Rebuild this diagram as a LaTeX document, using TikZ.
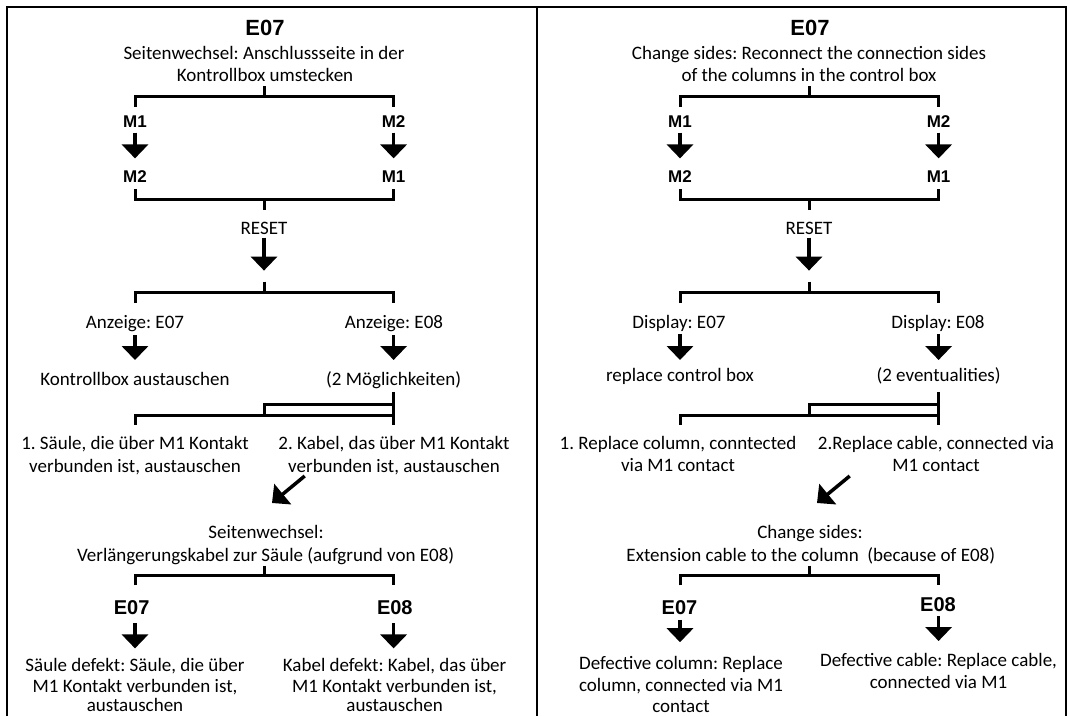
\documentclass[tikz,border=0pt]{standalone}
\usepackage{fontspec}
\setmainfont{Carlito}
\newfontfamily\hdrfont{Liberation Sans}
\usetikzlibrary{arrows.meta,calc}
\frenchspacing
\newcommand\mybracket[7]{%
  \coordinate (#1s) at (#2,#3);
  \coordinate (#1h) at (#2,#4);
  \coordinate (#1l) at (#6,#5);
  \coordinate (#1r) at (#7,#5);
  \draw[brk] (#1s) -- (#1h);
  \draw[brk] (#1l) |- (#1h) -| (#1r);}
\begin{document}
\frenchspacing
\begin{tikzpicture}[x=1pt,y=-1pt,
  txt/.style={anchor=base,inner sep=0pt,font=\frenchspacing\fontsize{19}{22}\selectfont},
  lbl/.style={anchor=base,inner sep=0pt,font=\hdrfont\bfseries\fontsize{17}{20}\selectfont},
  elbl/.style={anchor=base,inner sep=0pt,font=\hdrfont\bfseries\fontsize{20}{24}\selectfont},
  ttl/.style={anchor=base,inner sep=0pt,font=\hdrfont\bfseries\fontsize{22}{26}\selectfont},
  brk/.style={line width=3pt,line join=miter,line cap=butt},
  arr/.style={line width=3.5pt,-{Triangle[width=26pt,length=14pt]}},
  frm/.style={line width=2pt}]
\useasboundingbox (0,0) rectangle (1070,716);
\fill[white] (0,0) rectangle (1070,716);
% frame
\coordinate (fa) at (7,716); \coordinate (fb) at (7,7);
\coordinate (fc) at (1065.5,7); \coordinate (fd) at (1065.5,716);
\coordinate (fm1) at (537,7); \coordinate (fm2) at (537,716);
\draw[frm] (fa) -- (fb) -- (fc) -- (fd);
\draw[frm] (fm1) -- (fm2);

% ================= LEFT PANEL =================
\node[ttl] (lE) at (265,35) {E07};
\node[txt] (lt1) at (264,59.2) {Seitenwechsel: Anschlussseite in der};
\node[txt] (lt2) at (265,81) {Kontrollbox umstecken};
\mybracket{lb1}{264}{86}{96}{106.7}{135}{393.6}
\node[lbl] (lm1a) at (135,127.4) {M1};
\node[lbl] (lm2a) at (393.6,127.4) {M2};
\node[lbl] (lm2b) at (135,182.5) {M2};
\node[lbl] (lm1b) at (393.6,182.5) {M1};
\draw[arr] ($(lm1a.base)+(0,5.2)$) -- ($(lm2b.base)+(0,-24.1)$);
\draw[arr] ($(lm2a.base)+(0,5.2)$) -- ($(lm1b.base)+(0,-24.1)$);
\mybracket{lb2}{264}{210}{199.7}{189}{135}{393.6}
\node[txt] (lreset) at (264,234) {RESET};
\coordinate (lb3top) at (264,270.6);
\draw[arr] ($(lreset.base)+(0,3.6)$) -- (lb3top);
\mybracket{lb3}{264}{281.7}{292}{303}{135}{393.6}
\node[txt] (la7) at (135,328) {Anzeige: E07};
\node[txt] (la8) at (394,328) {Anzeige: E08};
\node[txt] (lk) at (135,385.6) {Kontrollbox austauschen};
\node[txt] (lm) at (393.6,385.6) {(2 Möglichkeiten)};
\draw[arr] ($(la7.base)+(0,7)$) -- ($(lk.base)+(0,-25.6)$);
\draw[arr] ($(la8.base)+(-0.4,7)$) -- ($(lm.base)+(0,-25.6)$);
\coordinate (lb4a) at (393.6,391.8);
\coordinate (lb4b) at (393.6,404);
\coordinate (lb4c) at (264,404);
\coordinate (lb4d) at (264,415);
\draw[brk] (lb4a) -- (lb4b) -- (lb4c) -- (lb4d);
\mybracket{lb5}{264}{415}{415}{424.6}{135}{393.6}
\draw[brk] (lb4b) -- (lb5r);
\node[txt] (ls1) at (135,449.7) {1. Säule, die über M1 Kontakt};
\node[txt] (ls2) at (135,472.8) {verbunden ist, austauschen};
\node[txt] (lc1) at (394,449.7) {2. Kabel, das über M1 Kontakt};
\node[txt] (lc2) at (394,472.8) {verbunden ist, austauschen};
\node[txt] (lw1) at (266,538.9) {Seitenwechsel:};
\node[txt] (lw2) at (265.7,561) {Verlängerungskabel zur Säule (aufgrund von E08)};
\draw[arr] ($(lc2.base)+(-89.3,3.2)$) -- ($(lw1.base)+(6,-35.9)$);
\mybracket{lb6}{264}{565.7}{575}{585.4}{135.3}{393.6}
\node[elbl] (le7) at (131.7,614.6) {E07};
\node[elbl] (le8) at (394.8,614.6) {E08};
\node[txt] (ld1) at (135,671.5) {Säule defekt: Säule, die über};
\node[txt] (ld2) at (135,692) {M1 Kontakt verbunden ist,};
\node[txt] (ld3) at (135,711.5) {austauschen};
\node[txt] (lk1) at (394.6,671.5) {Kabel defekt: Kabel, das über};
\node[txt] (lk2) at (394.6,692) {M1 Kontakt verbunden ist,};
\node[txt] (lk3) at (394.6,711.5) {austauschen};
\draw[arr] ($(le7.base)+(3.3,8.4)$) -- ($(ld1.base)+(0,-23.1)$);
\draw[arr] ($(le8.base)+(-1.2,8.4)$) -- ($(lk1.base)+(-1,-23.1)$);

% ================= RIGHT PANEL =================
\node[ttl] (rE) at (810,35) {E07};
\node[txt] (rt1) at (809,59.2) {Change sides: Reconnect the connection sides};
\node[txt] (rt2) at (809,81) {of the columns in the control box};
\mybracket{rb1}{809}{86}{96}{106.7}{680}{938.6}
\node[lbl] (rm1a) at (680,127.4) {M1};
\node[lbl] (rm2a) at (938.6,127.4) {M2};
\node[lbl] (rm2b) at (680,182.5) {M2};
\node[lbl] (rm1b) at (938.6,182.5) {M1};
\draw[arr] ($(rm1a.base)+(0,5.2)$) -- ($(rm2b.base)+(0,-24.1)$);
\draw[arr] ($(rm2a.base)+(0,5.2)$) -- ($(rm1b.base)+(0,-24.1)$);
\mybracket{rb2}{809}{210}{199.7}{189}{680}{938.6}
\node[txt] (rreset) at (809,234) {RESET};
\coordinate (rb3top) at (809,270.6);
\draw[arr] ($(rreset.base)+(0,3.6)$) -- (rb3top);
\mybracket{rb3}{809}{281.7}{292}{303}{680}{938.6}
\node[txt] (ra7) at (679,328) {Display: E07};
\node[txt] (ra8) at (938,328) {Display: E08};
\node[txt] (rk) at (680,381) {replace control box};
\node[txt] (rm) at (938.6,381) {(2 eventualities)};
\draw[arr] ($(ra7.base)+(1,6)$) -- ($(rk.base)+(0,-21)$);
\draw[arr] ($(ra8.base)+(0.6,6)$) -- ($(rm.base)+(0,-21)$);
\coordinate (rb4a) at (938.6,391.8);
\coordinate (rb4b) at (938.6,404);
\coordinate (rb4c) at (809,404);
\coordinate (rb4d) at (809,415);
\draw[brk] (rb4a) -- (rb4b) -- (rb4c) -- (rb4d);
\mybracket{rb5}{809}{415}{415}{424.6}{680}{938.6}
\draw[brk] (rb4b) -- (rb5r);
\node[txt] (rs1) at (678,449.7) {1. Replace column, conntected};
\node[txt] (rs2) at (678,471.5) {via M1 contact};
\node[txt] (rc1) at (936,449.7) {2.Replace cable, connected via};
\node[txt] (rc2) at (936,471.5) {M1 contact};
\node[txt] (rw1) at (810,538.9) {Change sides:};
\node[txt] (rw2) at (810.8,561) {Extension cable to the column\ \ (because of E08)};
\draw[arr] ($(rc2.base)+(-86.3,4.5)$) -- ($(rw1.base)+(7,-35.9)$);
\mybracket{rb6}{809}{565.7}{575}{585.4}{680}{938.6}
\node[elbl] (re7) at (679.5,614.6) {E07};
\node[elbl] (re8) at (938,611) {E08};
\node[txt] (rd1) at (681,669.7) {Defective column: Replace};
\node[txt] (rd2) at (681,691.5) {column, connected via M1};
\node[txt] (rd3) at (681,712) {contact};
\node[txt] (rk1) at (938.5,666.3) {Defective cable: Replace cable,};
\node[txt] (rk2) at (938.5,688.7) {connected via M1};
\draw[arr] ($(re7.base)+(0.5,5.2)$) -- ($(rd1.base)+(-1,-27.5)$);
\draw[arr] ($(re8.base)+(0.6,5)$) -- ($(rk1.base)+(0.1,-25.3)$);
\end{tikzpicture}
\end{document}
